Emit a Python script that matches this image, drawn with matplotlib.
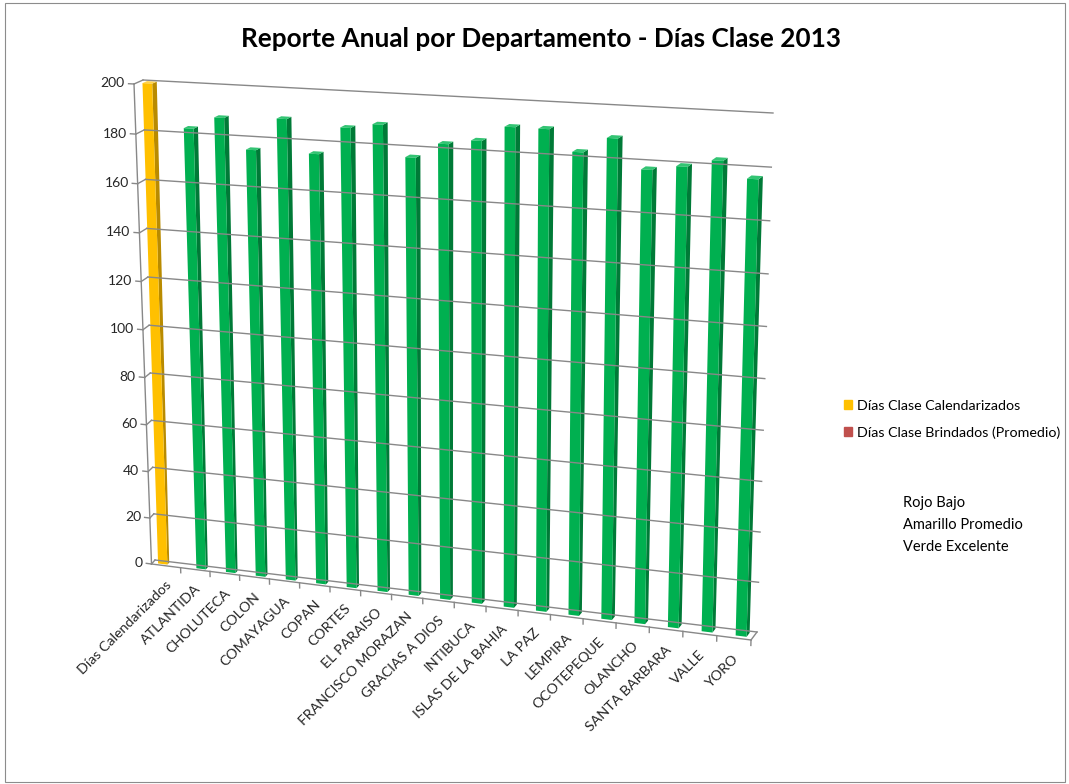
import numpy as np
import matplotlib
matplotlib.use("Agg")
import matplotlib.pyplot as plt
import matplotlib.transforms as mtransforms
from matplotlib.patches import Polygon, Patch, Rectangle

plt.rcParams['font.family'] = ['Lato', 'DejaVu Sans']

# datos
categorias = ["Días Calendarizados", "ATLANTIDA", "CHOLUTECA", "COLON", "COMAYAGUA",
              "COPAN", "CORTES", "EL PARAISO", "FRANCISCO MORAZAN", "GRACIAS A DIOS",
              "INTIBUCA", "ISLAS DE LA BAHIA", "LA PAZ", "LEMPIRA", "OCOTEPEQUE",
              "OLANCHO", "SANTA BARBARA", "VALLE", "YORO"]
calendarizados = [200] + [np.nan] * 18
brindados = [np.nan, 183, 188, 176, 189, 176, 187, 189, 177, 183,
             185, 191, 191, 183, 189, 178, 180, 183, 177]
ticks_y = list(range(0, 201, 20))
notas = ["Rojo Bajo", "Amarillo Promedio", "Verde Excelente"]

W, H = 1069, 784
fig = plt.figure(figsize=(W / 100, H / 100), dpi=100)
ax = fig.add_axes([0, 0, 1, 1])
ax.set_xlim(0, W)
ax.set_ylim(H, 0)
ax.set_autoscale_on(False)
ax.axis("off")


def homografia(src, dst):
    A = []
    for (x, y), (u, v) in zip(src, dst):
        A.append([x, y, 1, 0, 0, 0, -u * x, -u * y, -u])
        A.append([0, 0, 0, x, y, 1, -v * x, -v * y, -v])
    _, _, vt = np.linalg.svd(np.array(A, float))
    return vt[-1].reshape(3, 3)


class Perspectiva(mtransforms.Transform):
    input_dims = 2
    output_dims = 2
    is_separable = False
    has_inverse = False

    def __init__(self, M):
        super().__init__()
        self.M = M

    def transform_non_affine(self, values):
        v = np.atleast_2d(np.asarray(values, float))
        p = np.c_[v, np.ones(len(v))] @ self.M.T
        return p[:, :2] / p[:, 2:]


n = len(categorias)
ymax = 200
src = [(0, 0), (n, 0), (n, ymax), (0, ymax)]
# esquinas del cubo 3D en pixeles (frente / fondo)
frente = [(151.5, 564), (751, 640), (764, 119), (134, 84)]
fondo = [(155, 560), (757, 632), (773, 113), (143, 80)]


def persp(t):
    dst = [(f[0] * (1 - t) + b[0] * t, f[1] * (1 - t) + b[1] * t) for f, b in zip(frente, fondo)]
    return Perspectiva(homografia(src, dst))


P0 = persp(0.0)
P1 = persp(1.0)
T0 = P0 + ax.transData
T1 = P1 + ax.transData
gris = "#888888"

# pared del fondo y lateral
for y in ticks_y:
    ax.plot([0, n], [y, y], color=gris, lw=1.0, transform=T1)
    a = P0.transform([(0, y)])[0]
    b = P1.transform([(0, y)])[0]
    ax.plot([a[0], b[0]], [a[1], b[1]], color=gris, lw=1.0)
    ax.plot([-0.18, 0], [y, y], color=gris, lw=1.0, transform=T0)
    ax.text(-0.3, y, str(y), transform=T0, ha="right", va="center", fontsize=10, color="#262626")

# eje vertical y piso
ax.plot([0, 0], [0, ymax], color=gris, lw=1.0, transform=T0)
ax.plot([0, n], [0, 0], color=gris, lw=1.0, transform=T0)
a = P0.transform([(n, 0)])[0]
b = P1.transform([(n, 0)])[0]
ax.plot([a[0], b[0]], [a[1], b[1]], color=gris, lw=1.0)
for i in range(1, n + 1):
    ax.plot([i, i], [0, -2.2], color=gris, lw=1.0, transform=T0)
for i, c in enumerate(categorias):
    ax.text(i + 0.6, -7.5, c, transform=T0, rotation=45, rotation_mode="anchor",
            ha="right", va="center", fontsize=10.3, color="#262626")

# barras
ancho = 0.32
t0, t1 = 0.3, 0.8
Pa, Pb = persp(t0), persp(t1)


def barra(x0, v, frente_c, lado_c, tapa_c):
    x1 = x0 + ancho
    lado = np.vstack([Pa.transform([(x1, 0), (x1, v)]), Pb.transform([(x1, v), (x1, 0)])])
    tapa = np.vstack([Pa.transform([(x0, v), (x1, v)]), Pb.transform([(x1, v), (x0, v)])])
    ax.add_patch(Polygon(lado, closed=True, fc=lado_c, ec="none", transform=ax.transData))
    ax.add_patch(Polygon(tapa, closed=True, fc=tapa_c, ec="none", transform=ax.transData))
    ax.add_patch(Polygon([(x0, 0), (x1, 0), (x1, v), (x0, v)], closed=True, fc=frente_c,
                         ec="none", transform=Pa + ax.transData))


for i in range(n):
    if not np.isnan(calendarizados[i]):
        barra(i + 0.19, calendarizados[i], "#FFC000", "#B98B00", "#FFD24D")
    if not np.isnan(brindados[i]):
        barra(i + 0.5, brindados[i], "#00B050", "#007A37", "#33C473")

# leyenda
handles = [Patch(color="#FFC000", label="Días Clase Calendarizados"),
           Patch(color="#C0504D", label="Días Clase Brindados (Promedio)")]
ax.legend(handles=handles, loc="upper left", bbox_to_anchor=(838, 394), bbox_transform=ax.transData,
          frameon=False, fontsize=10.3, handlelength=0.6, handleheight=0.6, handletextpad=0.35,
          labelspacing=1.0, borderaxespad=0)

for k, t in enumerate(notas):
    ax.text(903, 503 + k * 22, t, ha="left", va="center", fontsize=10.5, color="#000000")

ax.text(541, 39, "Reporte Anual por Departamento - Días Clase 2013", ha="center", va="center",
        fontsize=18.8, fontweight="bold", color="#000000")

ax.add_patch(Rectangle((4.5, 2.5), W - 9, H - 5, fill=False, ec="#8C8C8C", lw=0.8))

fig.savefig("out.png", dpi=100)
